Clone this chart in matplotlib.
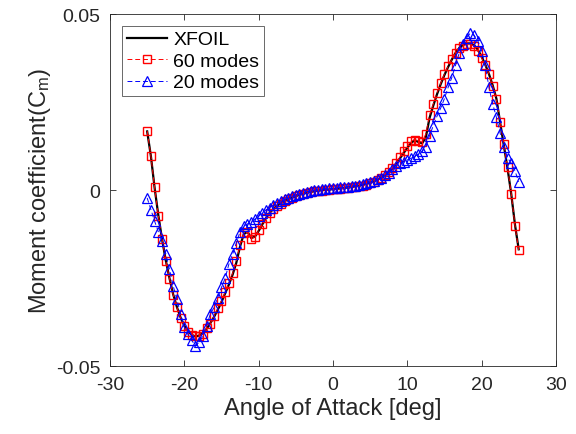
import numpy as np
import matplotlib
matplotlib.use("Agg")
import matplotlib.pyplot as plt

plt.rcParams['font.family'] = ['Liberation Sans', 'DejaVu Sans']
plt.rcParams['mathtext.fontset'] = 'custom'
plt.rcParams['mathtext.rm'] = 'Liberation Sans'
plt.rcParams['mathtext.it'] = 'Liberation Sans'
plt.rcParams['axes.unicode_minus'] = False

alpha = np.arange(-25, 25.01, 0.5)

xfoil = [0.0167, 0.0097, 0.0007, -0.0071, -0.0139, -0.0199, -0.0250, -0.0296, -0.0332, -0.0362,
         -0.0385, -0.0401, -0.0411, -0.0416, -0.0413, -0.0406, -0.0394, -0.0378, -0.0360, -0.0340,
         -0.0318, -0.0293, -0.0268, -0.0240, -0.0206, -0.0160, -0.0125, -0.0118, -0.0136, -0.0132,
         -0.0116, -0.0097, -0.0079, -0.0064, -0.0053, -0.0044, -0.0037, -0.0031, -0.0026, -0.0021,
         -0.0017, -0.0013, -0.0010, -0.0007, -0.0005, -0.0003, -0.0001, 0.0000, 0.0001, 0.0002,
         0.0003, 0.0004, 0.0005, 0.0006, 0.0008, 0.0009, 0.0011, 0.0013, 0.0015, 0.0018,
         0.0021, 0.0025, 0.0030, 0.0036, 0.0043, 0.0052, 0.0062, 0.0075, 0.0090, 0.0105,
         0.0120, 0.0134, 0.0142, 0.0137, 0.0133, 0.0150, 0.0205, 0.0240, 0.0272, 0.0301,
         0.0327, 0.0350, 0.0371, 0.0390, 0.0404, 0.0413, 0.0417, 0.0417, 0.0412, 0.0399,
         0.0380, 0.0357, 0.0330, 0.0298, 0.0260, 0.0193, 0.0127, 0.0062, -0.0011, -0.0098,
         -0.0168]

modes60 = [0.0168, 0.0098, 0.0008, -0.0072, -0.0138, -0.0200, -0.0251, -0.0297, -0.0333, -0.0363,
           -0.0387, -0.0403, -0.0412, -0.0415, -0.0414, -0.0408, -0.0393, -0.0379, -0.0358, -0.0336,
           -0.0314, -0.0290, -0.0264, -0.0236, -0.0200, -0.0155, -0.0122, -0.0120, -0.0138, -0.0133,
           -0.0114, -0.0095, -0.0078, -0.0064, -0.0054, -0.0045, -0.0038, -0.0031, -0.0026, -0.0021,
           -0.0017, -0.0013, -0.0010, -0.0007, -0.0005, -0.0003, -0.0002, -0.0001, 0.0000, 0.0001,
           0.0002, 0.0003, 0.0004, 0.0005, 0.0006, 0.0008, 0.0009, 0.0011, 0.0013, 0.0016,
           0.0019, 0.0023, 0.0028, 0.0034, 0.0042, 0.0052, 0.0064, 0.0078, 0.0094, 0.0110,
           0.0126, 0.0139, 0.0144, 0.0139, 0.0137, 0.0160, 0.0213, 0.0245, 0.0276, 0.0304,
           0.0330, 0.0352, 0.0372, 0.0390, 0.0403, 0.0411, 0.0414, 0.0414, 0.0410, 0.0396,
           0.0376, 0.0356, 0.0330, 0.0296, 0.0258, 0.0195, 0.0130, 0.0065, -0.0011, -0.0101,
           -0.0170]

modes20 = [-0.0022, -0.0055, -0.0088, -0.0118, -0.0145, -0.0180, -0.0225, -0.0272, -0.0310, -0.0352,
           -0.0390, -0.0410, -0.0427, -0.0442, -0.0432, -0.0414, -0.0385, -0.0352, -0.0333, -0.0305,
           -0.0276, -0.0250, -0.0210, -0.0182, -0.0150, -0.0118, -0.0103, -0.0096, -0.0090, -0.0082,
           -0.0074, -0.0065, -0.0056, -0.0050, -0.0043, -0.0037, -0.0031, -0.0026, -0.0021, -0.0017,
           -0.0013, -0.0010, -0.0007, -0.0004, -0.0002, 0.0000, 0.0001, 0.0003, 0.0004, 0.0005,
           0.0006, 0.0007, 0.0008, 0.0009, 0.0010, 0.0012, 0.0013, 0.0015, 0.0017, 0.0020,
           0.0023, 0.0027, 0.0031, 0.0036, 0.0042, 0.0050, 0.0060, 0.0070, 0.0077, 0.0081,
           0.0086, 0.0091, 0.0096, 0.0102, 0.0110, 0.0124, 0.0155, 0.0183, 0.0210, 0.0233,
           0.0260, 0.0292, 0.0320, 0.0355, 0.0390, 0.0415, 0.0433, 0.0447, 0.0440, 0.0424,
           0.0396, 0.0355, 0.0292, 0.0245, 0.0207, 0.0162, 0.0122, 0.0092, 0.0076, 0.0055,
           0.0024]

xticks = [-30, -20, -10, 0, 10, 20, 30]
yticks = [-0.05, 0, 0.05]
yticklabels = ['-0.05', '0', '0.05']

fig = plt.figure(figsize=(5.76, 4.35), dpi=100)
ax = fig.add_axes([0.191, 0.156, 0.774, 0.809])

ax.plot(alpha, xfoil, color='black', lw=1.6, label='XFOIL', zorder=2)
ax.plot(alpha, modes60, color='red', lw=0.7, ls='--', dashes=(5, 3), marker='s', ms=6,
        mfc='none', mec='red', mew=1.0, label='60 modes', zorder=3)
ax.plot(alpha, modes20, color='blue', lw=0.7, ls='--', dashes=(5, 3), marker='^', ms=7,
        mfc='none', mec='blue', mew=0.9, label='20 modes', zorder=4)

ax.set_xlim(-30, 30)
ax.set_ylim(-0.05, 0.05)
ax.set_xticks(xticks)
ax.set_yticks(yticks)
ax.set_yticklabels(yticklabels)
ax.tick_params(direction='in', length=4, width=0.6, labelsize=14, colors='#262626',
               top=True, right=True, pad=7)
ax.tick_params(labeltop=False, labelright=False)
for s in ax.spines.values():
    s.set_color('#262626')
    s.set_linewidth(0.6)

ax.set_xlabel('Angle of Attack [deg]', fontsize=17, color='#262626', labelpad=3)
ax.set_ylabel('Moment coefficient(C$_{\\rm m}$)', fontsize=17, color='#262626', labelpad=2)

leg = ax.legend(loc='upper left', fontsize=14, frameon=True, fancybox=False,
                edgecolor='#262626', borderpad=0.25, handlelength=2.1, labelspacing=0.2,
                handletextpad=0.3, borderaxespad=0.6)
leg.get_frame().set_linewidth(0.6)

fig.savefig('out.png', dpi=100)
